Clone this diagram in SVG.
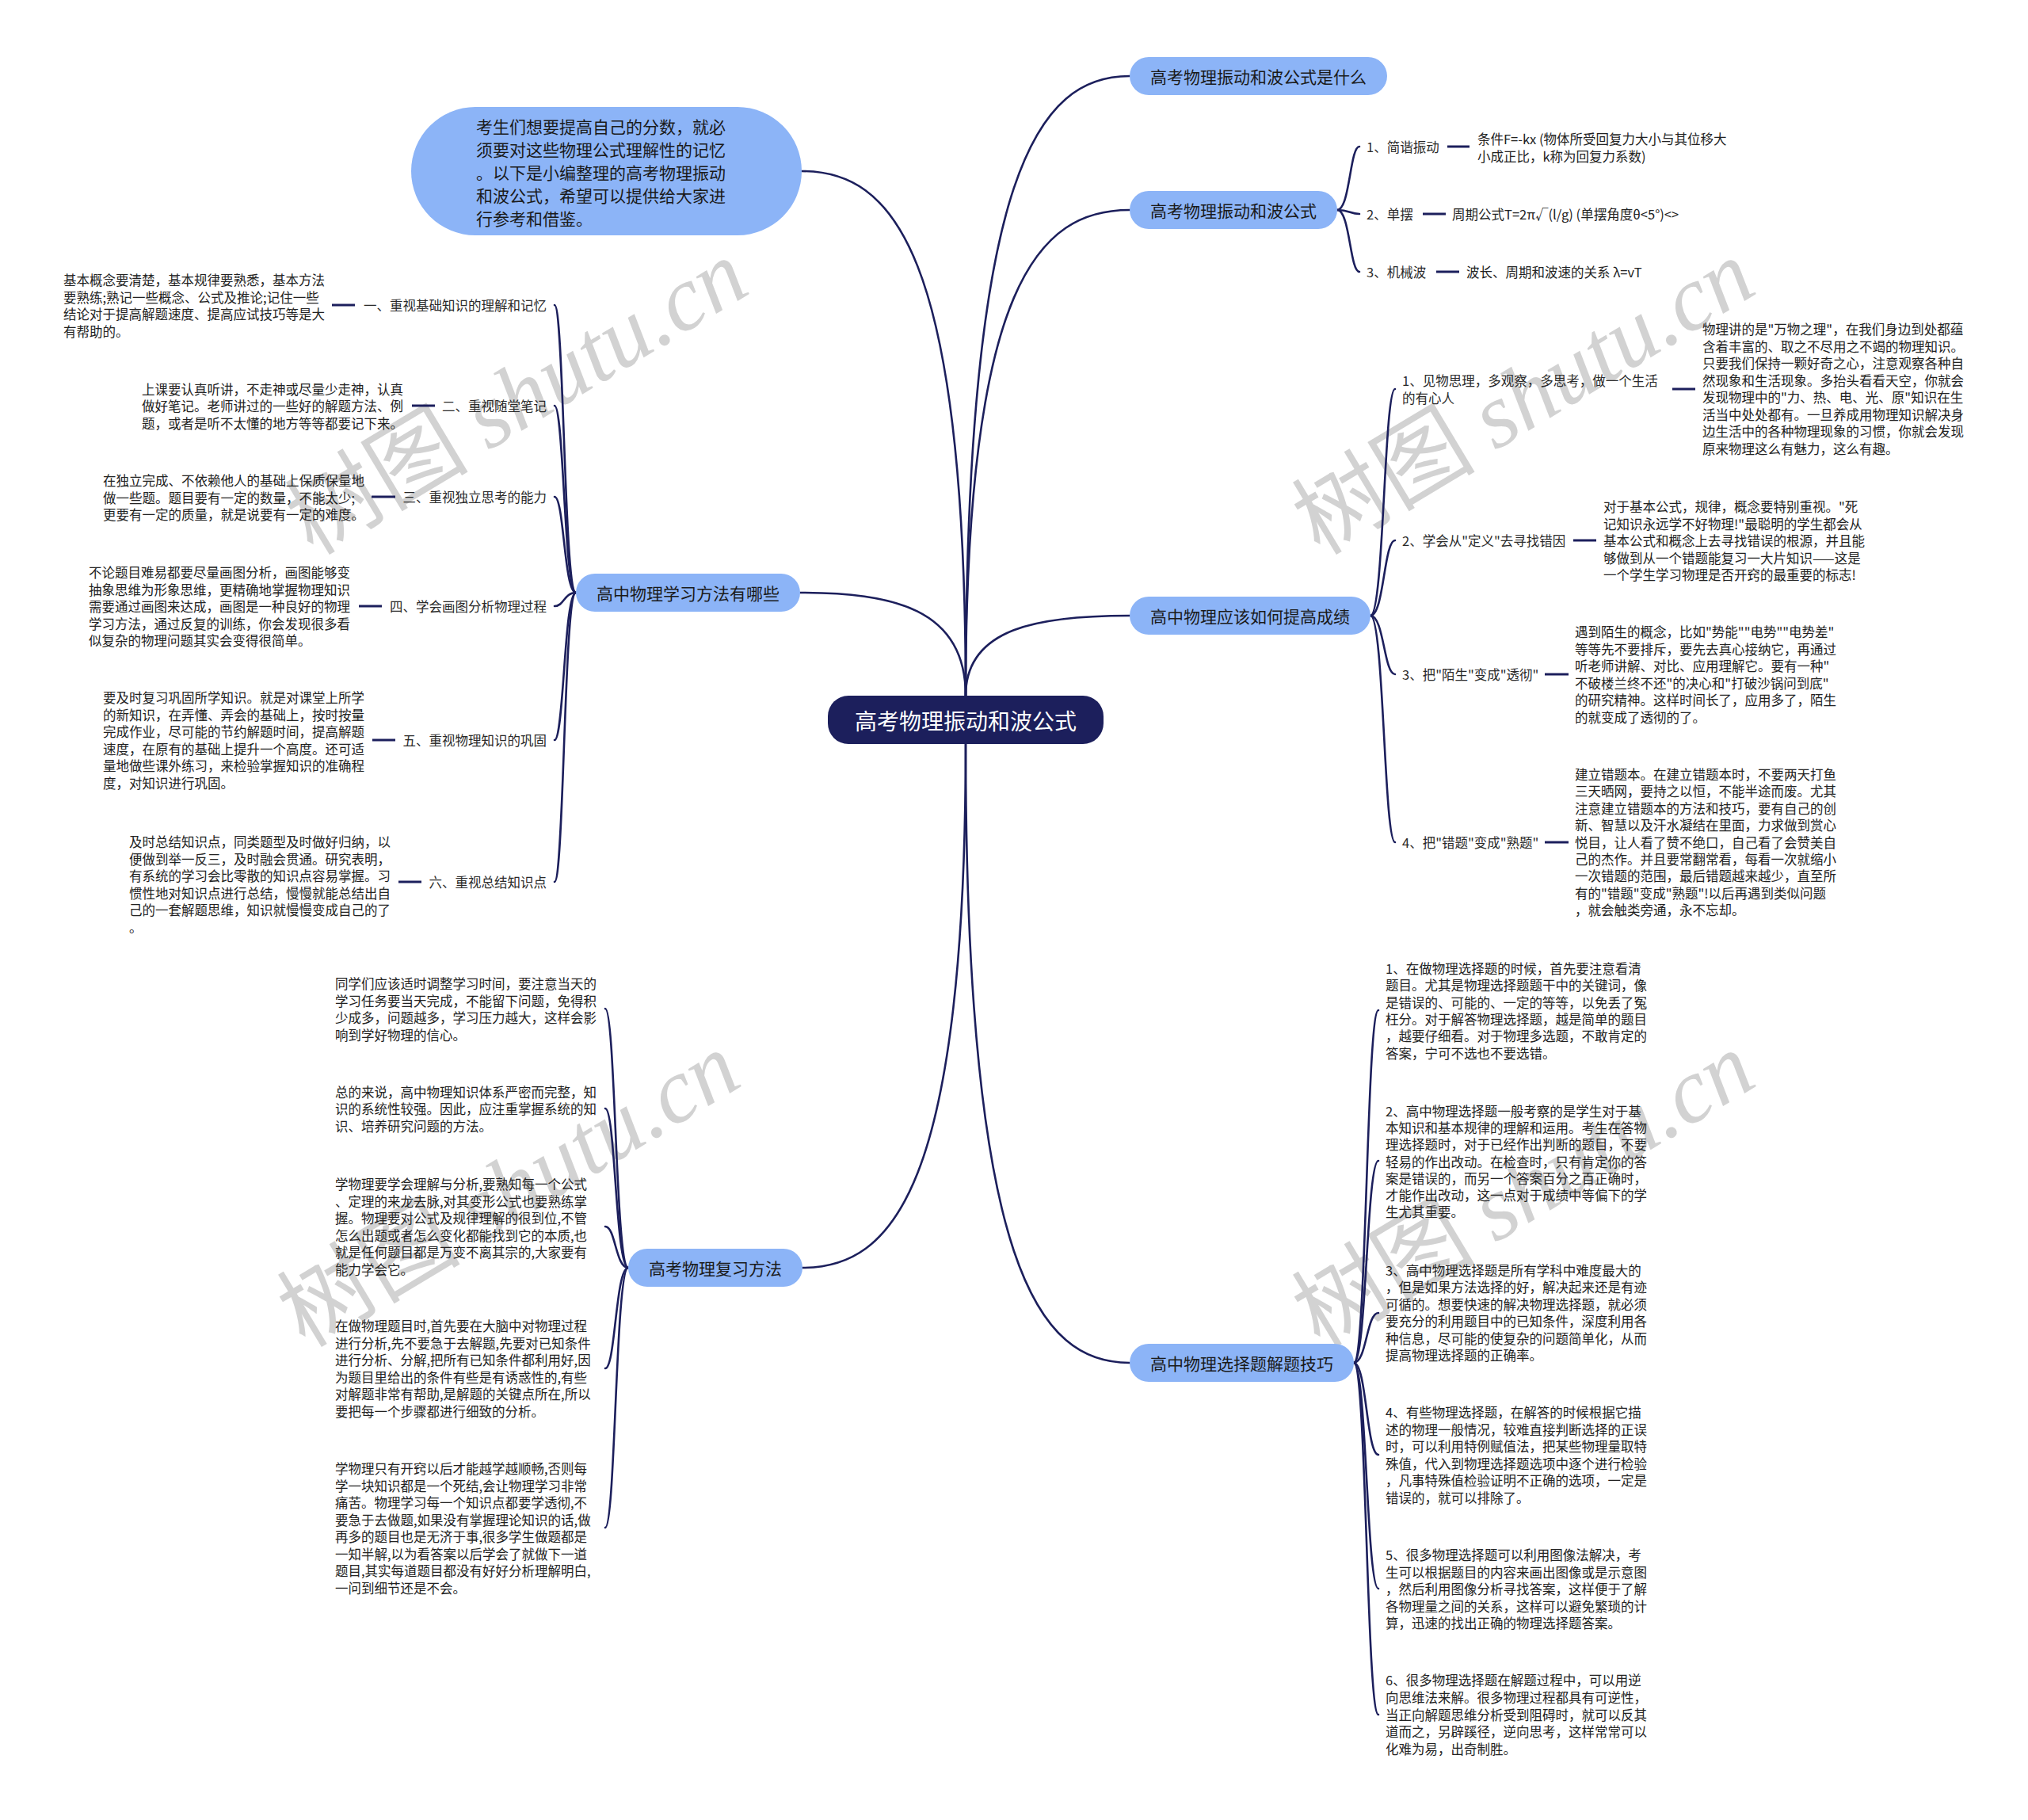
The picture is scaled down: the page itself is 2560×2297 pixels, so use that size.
<svg xmlns="http://www.w3.org/2000/svg" width="2560" height="2297" viewBox="0 0 2560 2297">
<style>
text{font-family:"Noto Sans CJK SC","Noto Sans",sans-serif;dominant-baseline:central;fill:#222}
.main{fill:#8cb4f7}
.mt{font-size:21px;fill:#1a1a1a}
.s{font-size:16.5px;fill:#2a2a2a}
.d{font-size:16.5px;fill:#222}
.ct{font-size:28px;fill:#ffffff}
.wm{font-size:116px;fill:#d2d2d2;dominant-baseline:alphabetic}
.wm tspan{font-family:"Liberation Serif",serif;font-style:italic}
.c{fill:none;stroke:#1c1f5c;stroke-width:2.6;stroke-linecap:round}
.dash{stroke:#1c1f5c;stroke-width:3}
</style>
<rect width="2560" height="2297" fill="#ffffff"/>

<g id="watermark">
<text class="wm" transform="translate(395,702) rotate(-31)">树图 <tspan>shutu.cn</tspan></text>
<text class="wm" transform="translate(1666,702) rotate(-31)">树图 <tspan>shutu.cn</tspan></text>
<text class="wm" transform="translate(385,1702) rotate(-31)">树图 <tspan>shutu.cn</tspan></text>
<text class="wm" transform="translate(1666,1702) rotate(-31)">树图 <tspan>shutu.cn</tspan></text>
</g>

<g id="connectors">
<path class="c" d="M1219 878 C1219 213 1312 96 1426 96"/>
<path class="c" d="M1219 878 C1219 357 1312 265 1426 265"/>
<path class="c" d="M1219 878 C1219 792 1312 777 1426 777"/>
<path class="c" d="M1219 939 C1219 1603 1312 1720 1426 1720"/>
<path class="c" d="M1219 878 C1219 767 1125 748 1010 748"/>
<path class="c" d="M1219 878 C1219 315 1126 216 1012 216"/>
<path class="c" d="M1219 939 C1219 1501 1126 1600 1013 1600"/>
<path class="c" d="M727 748 C712 748 712 385 700 385"/>
<path class="c" d="M727 748 C712 748 712 512 700 512"/>
<path class="c" d="M727 748 C712 748 712 627 700 627"/>
<path class="c" d="M727 748 C712 748 712 765 700 765"/>
<path class="c" d="M727 748 C712 748 712 934 700 934"/>
<path class="c" d="M727 748 C712 748 712 1113 700 1113"/>
<path class="c" d="M793 1600 C777 1600 777 1273 764 1273"/>
<path class="c" d="M793 1600 C777 1600 777 1399 764 1399"/>
<path class="c" d="M793 1600 C777 1600 777 1548 764 1548"/>
<path class="c" d="M793 1600 C777 1600 777 1727 764 1727"/>
<path class="c" d="M793 1600 C777 1600 777 1928 764 1928"/>
<path class="c" d="M1688 265 C1704 265 1704 185 1716 185"/>
<path class="c" d="M1688 265 C1704 265 1704 270 1716 270"/>
<path class="c" d="M1688 265 C1704 265 1704 343 1716 343"/>
<path class="c" d="M1730 777 C1747 777 1747 491 1761 491"/>
<path class="c" d="M1730 777 C1747 777 1747 682 1761 682"/>
<path class="c" d="M1730 777 C1747 777 1747 851 1761 851"/>
<path class="c" d="M1730 777 C1747 777 1747 1063 1761 1063"/>
<path class="c" d="M1709 1720 C1725 1720 1725 1275 1740 1275"/>
<path class="c" d="M1709 1720 C1725 1720 1725 1465 1740 1465"/>
<path class="c" d="M1709 1720 C1725 1720 1725 1657 1740 1657"/>
<path class="c" d="M1709 1720 C1725 1720 1725 1836 1740 1836"/>
<path class="c" d="M1709 1720 C1725 1720 1725 2005 1740 2005"/>
<path class="c" d="M1709 1720 C1725 1720 1725 2164 1740 2164"/>
<line class="dash" x1="419" y1="385" x2="448" y2="385"/>
<line class="dash" x1="520" y1="512" x2="549" y2="512"/>
<line class="dash" x1="469" y1="627" x2="499" y2="627"/>
<line class="dash" x1="453" y1="765" x2="482" y2="765"/>
<line class="dash" x1="470" y1="934" x2="499" y2="934"/>
<line class="dash" x1="503" y1="1113" x2="532" y2="1113"/>
<line class="dash" x1="1827" y1="185" x2="1855" y2="185"/>
<line class="dash" x1="1796" y1="270" x2="1825" y2="270"/>
<line class="dash" x1="1813" y1="343" x2="1842" y2="343"/>
<line class="dash" x1="2111" y1="491" x2="2140" y2="491"/>
<line class="dash" x1="1986" y1="682" x2="2015" y2="682"/>
<line class="dash" x1="1950" y1="851" x2="1980" y2="851"/>
<line class="dash" x1="1950" y1="1063" x2="1980" y2="1063"/>
</g>

<g id="n-center">
<rect x="1045" y="878" width="348" height="61" rx="26" fill="#1c1f5c"/>
<text class="ct" x="1219" y="908.5" text-anchor="middle">高考物理振动和波公式</text>
</g>

<g id="n-intro">
<rect x="519" y="135" width="493" height="162" rx="81" class="main"/>
<text class="mt"><tspan x="601" y="159">考生们想要提高自己的分数，就必</tspan><tspan x="601" y="188">须要对这些物理公式理解性的记忆</tspan><tspan x="601" y="217">。以下是小编整理的高考物理振动</tspan><tspan x="601" y="246">和波公式，希望可以提供给大家进</tspan><tspan x="601" y="275">行参考和借鉴。</tspan></text>
</g>

<g id="n-what">
<rect x="1426" y="72" width="325" height="48" rx="24" class="main"/>
<text class="mt" x="1452" y="96">高考物理振动和波公式是什么</text>
</g>

<g id="n-formula">
<rect x="1426" y="241" width="262" height="48" rx="24" class="main"/>
<text class="mt" x="1452" y="265">高考物理振动和波公式</text>
</g>
<g id="n-formula-1">
<text class="s" x="1725" y="185">1、简谐振动</text>
<text class="d"><tspan x="1865" y="175">条件F=-kx (物体所受回复力大小与其位移大</tspan><tspan x="1865" y="197">小成正比，k称为回复力系数)</tspan></text>
</g>
<g id="n-formula-2">
<text class="s" x="1725" y="270">2、单摆</text>
<text class="d" x="1833" y="270">周期公式T=2π√(l/g) (单摆角度θ&lt;5°)&lt;&gt;</text>
</g>
<g id="n-formula-3">
<text class="s" x="1725" y="343">3、机械波</text>
<text class="d" x="1851" y="343">波长、周期和波速的关系 λ=vT</text>
</g>

<g id="n-improve">
<rect x="1426" y="753" width="304" height="48" rx="24" class="main"/>
<text class="mt" x="1452" y="777">高中物理应该如何提高成绩</text>
</g>
<g id="n-improve-1">
<text class="s"><tspan x="1770" y="480">1、见物思理，多观察，多思考，做一个生活</tspan><tspan x="1770" y="502">的有心人</tspan></text>
<text class="d"><tspan x="2149" y="415">物理讲的是"万物之理"，在我们身边到处都蕴</tspan><tspan x="2149" y="436.5">含着丰富的、取之不尽用之不竭的物理知识。</tspan><tspan x="2149" y="458">只要我们保持一颗好奇之心，注意观察各种自</tspan><tspan x="2149" y="479.5">然现象和生活现象。多抬头看看天空，你就会</tspan><tspan x="2149" y="501">发现物理中的"力、热、电、光、原"知识在生</tspan><tspan x="2149" y="522.5">活当中处处都有。一旦养成用物理知识解决身</tspan><tspan x="2149" y="544">边生活中的各种物理现象的习惯，你就会发现</tspan><tspan x="2149" y="565.5">原来物理这么有魅力，这么有趣。</tspan></text>
</g>
<g id="n-improve-2">
<text class="s" x="1770" y="682">2、学会从"定义"去寻找错因</text>
<text class="d"><tspan x="2024" y="639">对于基本公式，规律，概念要特别重视。"死</tspan><tspan x="2024" y="660.5">记知识永远学不好物理!"最聪明的学生都会从</tspan><tspan x="2024" y="682">基本公式和概念上去寻找错误的根源，并且能</tspan><tspan x="2024" y="703.5">够做到从一个错题能复习一大片知识——这是</tspan><tspan x="2024" y="725">一个学生学习物理是否开窍的最重要的标志!</tspan></text>
</g>
<g id="n-improve-3">
<text class="s" x="1770" y="851">3、把"陌生"变成"透彻"</text>
<text class="d"><tspan x="1988" y="797">遇到陌生的概念，比如"势能""电势""电势差"</tspan><tspan x="1988" y="818.5">等等先不要排斥，要先去真心接纳它，再通过</tspan><tspan x="1988" y="840">听老师讲解、对比、应用理解它。要有一种"</tspan><tspan x="1988" y="861.5">不破楼兰终不还"的决心和"打破沙锅问到底"</tspan><tspan x="1988" y="883">的研究精神。这样时间长了，应用多了，陌生</tspan><tspan x="1988" y="904.5">的就变成了透彻的了。</tspan></text>
</g>
<g id="n-improve-4">
<text class="s" x="1770" y="1063">4、把"错题"变成"熟题"</text>
<text class="d"><tspan x="1988" y="977">建立错题本。在建立错题本时，不要两天打鱼</tspan><tspan x="1988" y="998.4">三天晒网，要持之以恒，不能半途而废。尤其</tspan><tspan x="1988" y="1019.8">注意建立错题本的方法和技巧，要有自己的创</tspan><tspan x="1988" y="1041.2">新、智慧以及汗水凝结在里面，力求做到赏心</tspan><tspan x="1988" y="1062.6">悦目，让人看了赞不绝口，自己看了会赞美自</tspan><tspan x="1988" y="1084">己的杰作。并且要常翻常看，每看一次就缩小</tspan><tspan x="1988" y="1105.4">一次错题的范围，最后错题越来越少，直至所</tspan><tspan x="1988" y="1126.8">有的"错题"变成"熟题"!以后再遇到类似问题</tspan><tspan x="1988" y="1148.2">，就会触类旁通，永不忘却。</tspan></text>
</g>

<g id="n-choice">
<rect x="1426" y="1696" width="283" height="48" rx="24" class="main"/>
<text class="mt" x="1452" y="1720">高中物理选择题解题技巧</text>
</g>
<g id="n-choice-1">
<text class="d"><tspan x="1749" y="1222">1、在做物理选择题的时候，首先要注意看清</tspan><tspan x="1749" y="1243.3">题目。尤其是物理选择题题干中的关键词，像</tspan><tspan x="1749" y="1264.6">是错误的、可能的、一定的等等，以免丢了冤</tspan><tspan x="1749" y="1285.9">枉分。对于解答物理选择题，越是简单的题目</tspan><tspan x="1749" y="1307.2">，越要仔细看。对于物理多选题，不敢肯定的</tspan><tspan x="1749" y="1328.5">答案，宁可不选也不要选错。</tspan></text>
</g>
<g id="n-choice-2">
<text class="d"><tspan x="1749" y="1402">2、高中物理选择题一般考察的是学生对于基</tspan><tspan x="1749" y="1423.2">本知识和基本规律的理解和运用。考生在答物</tspan><tspan x="1749" y="1444.4">理选择题时，对于已经作出判断的题目，不要</tspan><tspan x="1749" y="1465.6">轻易的作出改动。在检查时，只有肯定你的答</tspan><tspan x="1749" y="1486.8">案是错误的，而另一个答案百分之百正确时，</tspan><tspan x="1749" y="1508">才能作出改动，这一点对于成绩中等偏下的学</tspan><tspan x="1749" y="1529.2">生尤其重要。</tspan></text>
</g>
<g id="n-choice-3">
<text class="d"><tspan x="1749" y="1603">3、高中物理选择题是所有学科中难度最大的</tspan><tspan x="1749" y="1624.4">，但是如果方法选择的好，解决起来还是有迹</tspan><tspan x="1749" y="1645.8">可循的。想要快速的解决物理选择题，就必须</tspan><tspan x="1749" y="1667.2">要充分的利用题目中的已知条件，深度利用各</tspan><tspan x="1749" y="1688.6">种信息，尽可能的使复杂的问题简单化，从而</tspan><tspan x="1749" y="1710">提高物理选择题的正确率。</tspan></text>
</g>
<g id="n-choice-4">
<text class="d"><tspan x="1749" y="1782">4、有些物理选择题，在解答的时候根据它描</tspan><tspan x="1749" y="1803.6">述的物理一般情况，较难直接判断选择的正误</tspan><tspan x="1749" y="1825.2">时，可以利用特例赋值法，把某些物理量取特</tspan><tspan x="1749" y="1846.8">殊值，代入到物理选择题选项中逐个进行检验</tspan><tspan x="1749" y="1868.4">，凡事特殊值检验证明不正确的选项，一定是</tspan><tspan x="1749" y="1890">错误的，就可以排除了。</tspan></text>
</g>
<g id="n-choice-5">
<text class="d"><tspan x="1749" y="1962">5、很多物理选择题可以利用图像法解决，考</tspan><tspan x="1749" y="1983.5">生可以根据题目的内容来画出图像或是示意图</tspan><tspan x="1749" y="2005">，然后利用图像分析寻找答案，这样便于了解</tspan><tspan x="1749" y="2026.5">各物理量之间的关系，这样可以避免繁琐的计</tspan><tspan x="1749" y="2048">算，迅速的找出正确的物理选择题答案。</tspan></text>
</g>
<g id="n-choice-6">
<text class="d"><tspan x="1749" y="2120">6、很多物理选择题在解题过程中，可以用逆</tspan><tspan x="1749" y="2141.8">向思维法来解。很多物理过程都具有可逆性，</tspan><tspan x="1749" y="2163.6">当正向解题思维分析受到阻碍时，就可以反其</tspan><tspan x="1749" y="2185.4">道而之，另辟蹊径，逆向思考，这样常常可以</tspan><tspan x="1749" y="2207.2">化难为易，出奇制胜。</tspan></text>
</g>

<g id="n-method">
<rect x="727" y="724" width="283" height="48" rx="24" class="main"/>
<text class="mt" x="753" y="748">高中物理学习方法有哪些</text>
</g>
<g id="n-method-1">
<text class="s" x="690" y="385" text-anchor="end">一、重视基础知识的理解和记忆</text>
<text class="d"><tspan x="80" y="353">基本概念要清楚，基本规律要熟悉，基本方法</tspan><tspan x="80" y="374.5">要熟练;熟记一些概念、公式及推论;记住一些</tspan><tspan x="80" y="396">结论对于提高解题速度、提高应试技巧等是大</tspan><tspan x="80" y="417.5">有帮助的。</tspan></text>
</g>
<g id="n-method-2">
<text class="s" x="690" y="512" text-anchor="end">二、重视随堂笔记</text>
<text class="d"><tspan x="179" y="490.5">上课要认真听讲，不走神或尽量少走神，认真</tspan><tspan x="179" y="512">做好笔记。老师讲过的一些好的解题方法、例</tspan><tspan x="179" y="533.5">题，或者是听不太懂的地方等等都要记下来。</tspan></text>
</g>
<g id="n-method-3">
<text class="s" x="690" y="627" text-anchor="end">三、重视独立思考的能力</text>
<text class="d"><tspan x="130" y="606">在独立完成、不依赖他人的基础上保质保量地</tspan><tspan x="130" y="627.5">做一些题。题目要有一定的数量，不能太少;</tspan><tspan x="130" y="649">更要有一定的质量，就是说要有一定的难度。</tspan></text>
</g>
<g id="n-method-4">
<text class="s" x="690" y="765" text-anchor="end">四、学会画图分析物理过程</text>
<text class="d"><tspan x="112" y="722">不论题目难易都要尽量画图分析，画图能够变</tspan><tspan x="112" y="743.5">抽象思维为形象思维，更精确地掌握物理知识</tspan><tspan x="112" y="765">需要通过画图来达成，画图是一种良好的物理</tspan><tspan x="112" y="786.5">学习方法，通过反复的训练，你会发现很多看</tspan><tspan x="112" y="808">似复杂的物理问题其实会变得很简单。</tspan></text>
</g>
<g id="n-method-5">
<text class="s" x="690" y="934" text-anchor="end">五、重视物理知识的巩固</text>
<text class="d"><tspan x="130" y="880">要及时复习巩固所学知识。就是对课堂上所学</tspan><tspan x="130" y="901.5">的新知识，在弄懂、弄会的基础上，按时按量</tspan><tspan x="130" y="923">完成作业，尽可能的节约解题时间，提高解题</tspan><tspan x="130" y="944.5">速度，在原有的基础上提升一个高度。还可适</tspan><tspan x="130" y="966">量地做些课外练习，来检验掌握知识的准确程</tspan><tspan x="130" y="987.5">度，对知识进行巩固。</tspan></text>
</g>
<g id="n-method-6">
<text class="s" x="690" y="1113" text-anchor="end">六、重视总结知识点</text>
<text class="d"><tspan x="163" y="1062">及时总结知识点，同类题型及时做好归纳，以</tspan><tspan x="163" y="1083.5">便做到举一反三，及时融会贯通。研究表明，</tspan><tspan x="163" y="1105">有系统的学习会比零散的知识点容易掌握。习</tspan><tspan x="163" y="1126.5">惯性地对知识点进行总结，慢慢就能总结出自</tspan><tspan x="163" y="1148">己的一套解题思维，知识就慢慢变成自己的了</tspan><tspan x="163" y="1169.5">。</tspan></text>
</g>

<g id="n-review">
<rect x="793" y="1576" width="220" height="48" rx="24" class="main"/>
<text class="mt" x="819" y="1600">高考物理复习方法</text>
</g>
<g id="n-review-1">
<text class="d"><tspan x="423" y="1241">同学们应该适时调整学习时间，要注意当天的</tspan><tspan x="423" y="1262.5">学习任务要当天完成，不能留下问题，免得积</tspan><tspan x="423" y="1284">少成多，问题越多，学习压力越大，这样会影</tspan><tspan x="423" y="1305.5">响到学好物理的信心。</tspan></text>
</g>
<g id="n-review-2">
<text class="d"><tspan x="423" y="1377.5">总的来说，高中物理知识体系严密而完整，知</tspan><tspan x="423" y="1399">识的系统性较强。因此，应注重掌握系统的知</tspan><tspan x="423" y="1420.5">识、培养研究问题的方法。</tspan></text>
</g>
<g id="n-review-3">
<text class="d"><tspan x="423" y="1494">学物理要学会理解与分析,要熟知每一个公式</tspan><tspan x="423" y="1515.5">、定理的来龙去脉,对其变形公式也要熟练掌</tspan><tspan x="423" y="1537">握。物理要对公式及规律理解的很到位,不管</tspan><tspan x="423" y="1558.5">怎么出题或者怎么变化都能找到它的本质,也</tspan><tspan x="423" y="1580">就是任何题目都是万变不离其宗的,大家要有</tspan><tspan x="423" y="1601.5">能力学会它。</tspan></text>
</g>
<g id="n-review-4">
<text class="d"><tspan x="423" y="1673">在做物理题目时,首先要在大脑中对物理过程</tspan><tspan x="423" y="1694.5">进行分析,先不要急于去解题,先要对已知条件</tspan><tspan x="423" y="1716">进行分析、分解,把所有已知条件都利用好,因</tspan><tspan x="423" y="1737.5">为题目里给出的条件有些是有诱惑性的,有些</tspan><tspan x="423" y="1759">对解题非常有帮助,是解题的关键点所在,所以</tspan><tspan x="423" y="1780.5">要把每一个步骤都进行细致的分析。</tspan></text>
</g>
<g id="n-review-5">
<text class="d"><tspan x="423" y="1853">学物理只有开窍以后才能越学越顺畅,否则每</tspan><tspan x="423" y="1874.5">学一块知识都是一个死结,会让物理学习非常</tspan><tspan x="423" y="1896">痛苦。物理学习每一个知识点都要学透彻,不</tspan><tspan x="423" y="1917.5">要急于去做题,如果没有掌握理论知识的话,做</tspan><tspan x="423" y="1939">再多的题目也是无济于事,很多学生做题都是</tspan><tspan x="423" y="1960.5">一知半解,以为看答案以后学会了就做下一道</tspan><tspan x="423" y="1982">题目,其实每道题目都没有好好分析理解明白,</tspan><tspan x="423" y="2003.5">一问到细节还是不会。</tspan></text>
</g>
</svg>
